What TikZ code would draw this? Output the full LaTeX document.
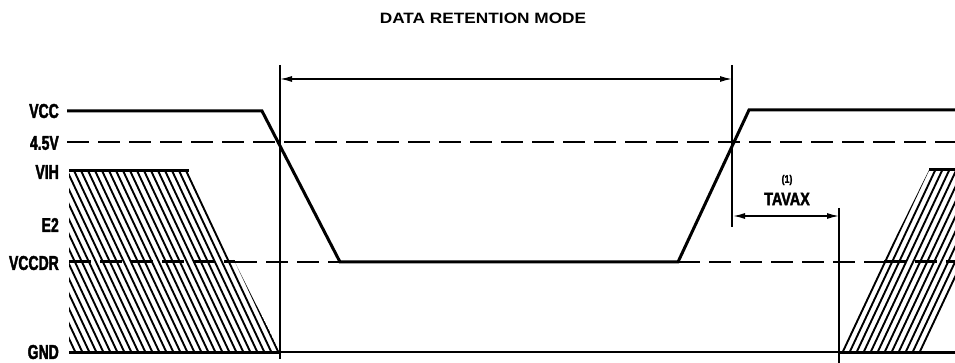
\documentclass[tikz,border=0pt]{standalone}
\usepackage{fontspec}
\setmainfont{Liberation Sans}
\newfontfamily\condfont[FakeStretch=0.70,BoldFeatures={FakeBold=2}]{Liberation Sans}
\newfontfamily\tavfont[FakeStretch=0.80,BoldFeatures={FakeBold=2}]{Liberation Sans}
\newfontfamily\titlefont[FakeStretch=1.15]{Liberation Sans}
\usetikzlibrary{arrows.meta}
\tikzset{
  wave/.style={line width=3pt, line join=miter},
  thinl/.style={line width=1.4pt},
  dashl/.style={line width=1.4pt, dash pattern=on 22pt off 9pt},
  thickdash/.style={line width=3pt, dash pattern=on 22pt off 9pt},
  hatchl/.style={line width=1.9pt},
  dim/.style={line width=1.4pt, {Latex[length=12pt,width=6pt]}-{Latex[length=12pt,width=6pt]}},
  lbl/.style={font=\condfont\bfseries\fontsize{20}{20}\selectfont, anchor=east, inner sep=0pt},
  tlbl/.style={font=\tavfont\bfseries\fontsize{18}{18}\selectfont, inner sep=0pt},
}
\begin{document}
\begin{tikzpicture}[x=1pt,y=-1pt]
\useasboundingbox (0,0) rectangle (955,363);
% title
\node[font=\titlefont\bfseries\fontsize{15}{15}\selectfont, inner sep=0pt] (title) at (483,18) {DATA RETENTION MODE};
% labels
\node[lbl] (lvcc) at (59,111) {VCC};
\node[lbl] (l45) at (59,143) {4.5V};
\node[lbl] (lvih) at (59,172) {VIH};
\node[lbl] (le2) at (59,225) {E2};
\node[lbl] (lvccdr) at (59,263) {VCCDR};
\node[lbl] (lgnd) at (59,352) {GND};
% coordinates
\coordinate (t1) at (280,65);
\coordinate (t1b) at (280,359);
\coordinate (t2) at (732,65);
\coordinate (t2b) at (732,227);
\coordinate (t3) at (839,208);
\coordinate (t3b) at (839,363);
% hatched regions
\begin{scope}
  \clip (69,171) -- (189,171) -- (280,352) -- (69,352) -- cycle;
  \foreach \i in {-30,...,20} {
    \draw[hatchl] (69+\i*7.0,160) -- ++(95,202);
  }
\end{scope}
\begin{scope}
  \clip (839,352) -- (929,170) -- (955,170) -- (955,352) -- cycle;
  \foreach \i in {-5,...,30} {
    \draw[hatchl] (800+\i*7.0,160) -- ++(-95,202);
  }
\end{scope}
\draw[wave] (69,171) -- (189,171);
\draw[wave] (929,170) -- (955,170);
% dashed reference lines
\draw[dashl] (67,142) -- (955,142);
\draw[dashl] (235,262) -- (340,262);
\draw[dashl] (678,262) -- (884,262);
\draw[thickdash] (69,262) -- (235,262);
\draw[thickdash] (884,262) -- (955,262);
% GND
\draw[wave] (69,352) -- (280,352);
\draw[thinl] (280,352) -- (839,352);
\draw[wave] (839,352) -- (955,352);
% VCC waveform
\draw[wave] (67,111) -- (262,111) -- (340,262) -- (678,262) -- (749,110) -- (955,110);
% vertical markers
\draw[thinl] (t1) -- (t1b);
\draw[thinl] (t2) -- (t2b);
\draw[thinl] (t3) -- (t3b);
% dimension arrows
\draw[dim] (280,79) -- (732,79);
\draw[dim] (733,216) -- (839,216);
\node[font=\tavfont\bfseries\fontsize{11}{11}\selectfont, inner sep=0pt] (n1) at (787,180) {(1)};
\node[tlbl] (tavax) at (787,199) {TAVAX};
\end{tikzpicture}
\end{document}
